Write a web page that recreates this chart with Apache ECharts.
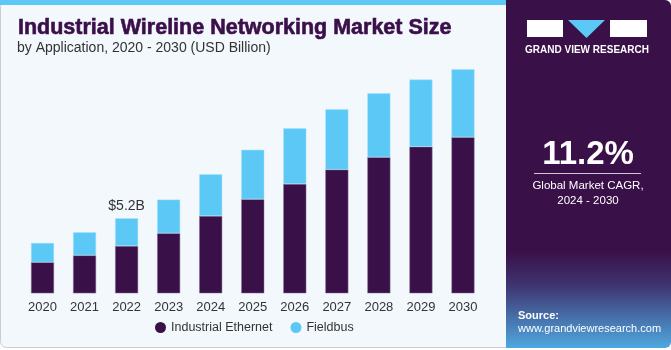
<!DOCTYPE html>
<html lang="en">
<head>
    <meta charset="UTF-8" />
    <title>Industrial Wireline Networking Market Size</title>
    <style>
      html, body { margin: 0; padding: 0; background: #ffffff; }
    </style>
</head>
<body>
<div id="main" style="width: 671px; height: 350px"></div>
<script src="https://cdn.jsdelivr.net/npm/echarts@6.0.0/dist/echarts.min.js"></script>
<script>
  // data (USD Billion)
  var years = ["2020", "2021", "2022", "2023", "2024", "2025", "2026", "2027", "2028", "2029", "2030"];
  var ethernet = [2.15, 2.63, 3.28, 4.16, 5.36, 6.52, 7.58, 8.57, 9.43, 10.16, 10.82];
  var fieldbus = [1.34, 1.60, 1.92, 2.33, 2.89, 3.42, 3.86, 4.19, 4.44, 4.65, 4.71];
  var labelYear = "2022";
  var labelText = "$5.2B";

  var dark = "#3a1048";
  var light = "#5bc8f5";

  var myChart = echarts.init(document.getElementById("main"));

  var option = {
    animation: false,
    backgroundColor: "#ffffff",
    title: [
      {
        text: "Industrial Wireline Networking Market Size",
        left: 18, top: 17, padding: 0,
        textStyle: { fontFamily: "Liberation Sans", fontWeight: "bold", fontSize: 21.5, color: "#3b0f4a",
          textBorderColor: "#3b0f4a", textBorderWidth: 0.6 }
      },
      {
        text: "by Application, 2020 - 2030 (USD Billion)",
        left: 17, top: 41, padding: 0,
        textStyle: { fontFamily: "Liberation Sans", fontWeight: "normal", fontSize: 14, color: "#333333" }
      }
    ],
    legend: {
      top: 321, left: 155, padding: 0,
      itemGap: 18,
      icon: "circle",
      itemWidth: 11, itemHeight: 11,
      itemStyle: { borderWidth: 0 },
      textStyle: { fontFamily: "Liberation Sans", fontSize: 12.5, color: "#333333" },
      data: ["Industrial Ethernet", "Fieldbus"]
    },
    grid: { left: 21.5, width: 462.5, top: 62.4, bottom: 56.7 },
    xAxis: {
      type: "category",
      data: years,
      axisLine: { show: false },
      axisTick: { show: false },
      axisLabel: { fontFamily: "Liberation Sans", fontSize: 13, color: "#333333", margin: 8 }
    },
    yAxis: {
      type: "value", min: 0, max: 16,
      show: false
    },
    series: [
      {
        name: "Industrial Ethernet",
        type: "bar", stack: "total", barWidth: 23,
        itemStyle: { color: dark, borderColor: "#8a7596", borderWidth: 0.5 },
        data: ethernet
      },
      {
        name: "Fieldbus",
        type: "bar", stack: "total", barWidth: 23,
        itemStyle: { color: light, borderColor: "#a8e2fa", borderWidth: 0.5 },
        label: {
          show: true, position: "top", distance: 5,
          fontFamily: "Liberation Sans", fontSize: 14, color: "#333333",
          formatter: function (p) { return p.name === labelYear ? labelText : ""; }
        },
        data: fieldbus
      }
    ],
    graphic: [
      // left card
      { type: "rect", z: -10, shape: { x: 0.5, y: 0.5, width: 520, height: 347, r: 6 },
        style: { fill: "#f3f8fc", stroke: "#cccccc", lineWidth: 1 } },
      { type: "rect", z: -9, shape: { x: 0, y: 0, width: 510, height: 5 }, style: { fill: light } },
      // right panel
      { type: "rect", z: -8, shape: { x: 506, y: 0, width: 165, height: 348, r: [0, 6, 6, 0] },
        style: {
          fill: new echarts.graphic.LinearGradient(0, 0, 0, 1, [
            { offset: 0, color: "#3a1048" },
            { offset: 0.72, color: "#3a1048" },
            { offset: 0.82, color: "#3e3470" },
            { offset: 1, color: "#4fa8e0" }
          ])
        } },
      // logo
      { type: "rect", shape: { x: 527, y: 20, width: 36, height: 17 }, style: { fill: "#ffffff" } },
      { type: "polygon", shape: { points: [[568, 20], [605, 20], [586.5, 38]] }, style: { fill: light } },
      { type: "rect", shape: { x: 610, y: 20, width: 37, height: 17 }, style: { fill: "#ffffff" } },
      { type: "text", style: { x: 587, y: 50, text: "GRAND VIEW RESEARCH", align: "center", verticalAlign: "middle",
          font: "bold 10px 'Liberation Sans'", fill: "#ffffff" } },
      { type: "text", style: { x: 588, y: 155, text: "11.2%", align: "center", verticalAlign: "middle",
          font: "bold 33px 'Liberation Sans'", fill: "#ffffff" } },
      { type: "rect", shape: { x: 534, y: 173, width: 107, height: 1 }, style: { fill: "#cfc5d6" } },
      { type: "text", style: { x: 588, y: 186, text: "Global Market CAGR,", align: "center", verticalAlign: "middle",
          font: "11.5px 'Liberation Sans'", fill: "#ffffff" } },
      { type: "text", style: { x: 588, y: 201, text: "2024 - 2030", align: "center", verticalAlign: "middle",
          font: "11.5px 'Liberation Sans'", fill: "#ffffff" } },
      { type: "text", style: { x: 518, y: 316, text: "Source:", verticalAlign: "middle",
          font: "bold 11px 'Liberation Sans'", fill: "#ffffff" } },
      { type: "text", style: { x: 518, y: 329, text: "www.grandviewresearch.com", verticalAlign: "middle",
          font: "11px 'Liberation Sans'", fill: "#ffffff" } }
    ]
  };
  myChart.setOption(option);
</script>
</body>
</html>
